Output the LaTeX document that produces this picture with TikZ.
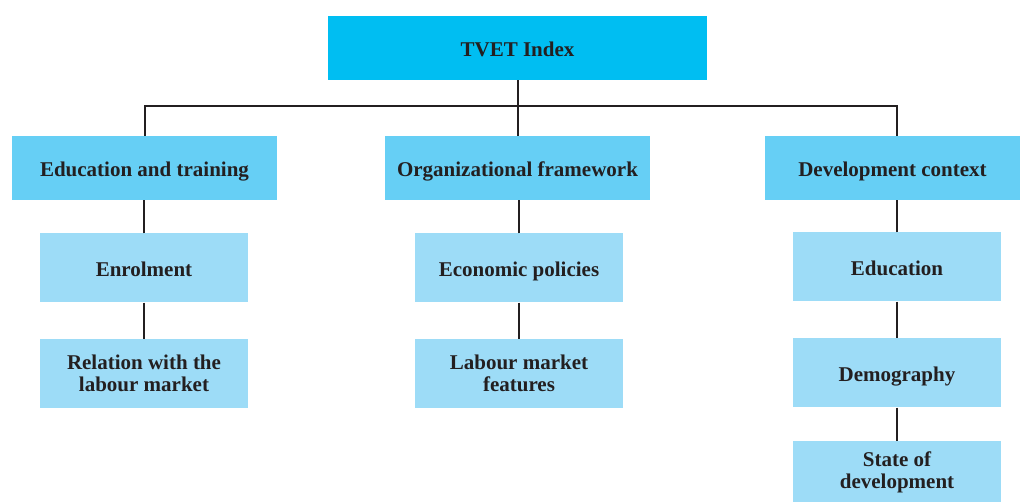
\documentclass[tikz,border=0pt]{standalone}
\usepackage{fontspec}
\setmainfont{Liberation Serif}
\usetikzlibrary{calc}
\definecolor{topblue}{HTML}{00BEF2}
\definecolor{midblue}{HTML}{66CFF5}
\definecolor{lowblue}{HTML}{9DDCF7}
\definecolor{ink}{HTML}{231F20}
\begin{document}
\begin{tikzpicture}[x=1pt,y=-1pt,
  box/.style={inner sep=0pt, align=center, text=ink,
    font=\fontsize{21}{22}\selectfont\bfseries},
  oneline/.style={text height=20pt, text depth=3pt},
  rootbox/.style={box, oneline, fill=topblue, minimum width=379pt, minimum height=64pt},
  groupbox/.style={box, oneline, fill=midblue, minimum width=265pt, minimum height=64pt},
  itembox/.style={box, fill=lowblue, minimum width=208pt, minimum height=69pt},
  link/.style={draw=ink, line width=2pt}]
\useasboundingbox (0,0) rectangle (1020,502);

% root
\node[rootbox] (tvet) at (517.5,48) {TVET Index};

% dimensions
\node[groupbox] (edu) at (144.5,168) {Education and training};
\node[groupbox] (org) at (517.5,168) {Organizational framework};
\node[groupbox, minimum width=255pt] (dev) at (892.5,168) {Development context};

% indicators
\node[itembox, oneline] (enrol) at (144,268) {Enrolment};
\node[itembox] (rel) at (144,373.5) {Relation with the\\labour market};
\node[itembox, oneline] (econ) at (519,268) {Economic policies};
\node[itembox] (lab) at (519,373.5) {Labour market\\features};
\node[itembox, oneline] (educ) at (897,267) {Education};
\node[itembox, oneline] (demo) at (897,373) {Demography};
\node[itembox, minimum height=62pt] (state) at (897,472) {State of\\development};

% connectors
\coordinate (bus) at (518,106);
\coordinate (devtop) at (educ.north |- dev.north);
\draw[link] (tvet.south) -- (bus -| tvet.south) -- (org.north);
\draw[link] (edu.north) |- (bus) -| (devtop);
\draw[link] (enrol.north) -- (enrol.north |- edu.south);
\draw[link] (enrol.south) -- (rel.north);
\draw[link] (econ.north) -- (econ.north |- org.south);
\draw[link] (econ.south) -- (lab.north);
\draw[link] (educ.north) -- (educ.north |- dev.south);
\draw[link] (educ.south) -- (demo.north);
\draw[link] (demo.south) -- (state.north);
\end{tikzpicture}
\end{document}
